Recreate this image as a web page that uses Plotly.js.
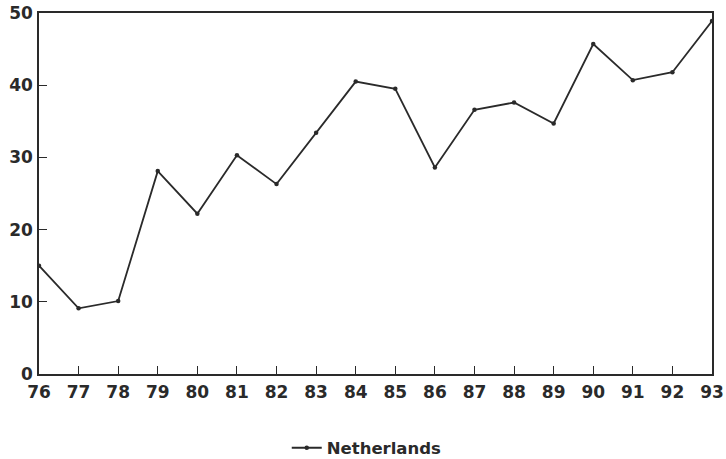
<!DOCTYPE html>
<html><head><meta charset="utf-8">
<script src="https://cdn.plot.ly/plotly-3.0.1.min.js"></script>
<style>html,body{margin:0;padding:0;background:#fff}#c{width:726px;height:459px}</style>
</head><body><div id="c"></div>
<script>
const years = [76,77,78,79,80,81,82,83,84,85,86,87,88,89,90,91,92,93];
const netherlands = [15.0,9.1,10.1,28.1,22.2,30.3,26.3,33.4,40.5,39.5,28.6,36.6,37.6,34.7,45.7,40.7,41.8,48.9];
const yTicks = [0,10,20,30,40,50];

const ink = '#2a2a2a';
const font = {family: 'DejaVu Sans', size: 17, color: ink, weight: 'bold'};

Plotly.newPlot('c', [{
  x: years, y: netherlands, name: 'Netherlands', type: 'scatter', mode: 'lines+markers',
  line: {color: ink, width: 1.8}, marker: {color: ink, size: 4.5}
}], {
  width: 726, height: 459,
  margin: {l: 39, r: 14, t: 13, b: 85, autoexpand: false},
  paper_bgcolor: '#fff', plot_bgcolor: '#fff',
  font: font,
  showlegend: true,
  legend: {orientation: 'h', x: 0.487, xanchor: 'center', y: -0.205, yanchor: 'middle',
           font: {family: 'DejaVu Sans', size: 16.5, color: ink, weight: 'bold'}},
  xaxis: {range: [76, 93], tickvals: years, ticktext: years.map(String), ticks: 'inside', ticklen: 8, tickwidth: 1.3, tickcolor: ink,
          ticklabelstandoff: 2,
          showline: true, linecolor: ink, linewidth: 1.6, mirror: true, showgrid: false, zeroline: false, tickfont: font, automargin: false},
  yaxis: {range: [0, 50], tickvals: yTicks, ticks: 'inside', ticklen: 8, tickwidth: 1.3, tickcolor: ink,
          ticklabelstandoff: 1,
          showline: true, linecolor: ink, linewidth: 1.6, mirror: true, showgrid: false, zeroline: false, tickfont: font, automargin: false}
}, {displayModeBar: false});
</script></body></html>
